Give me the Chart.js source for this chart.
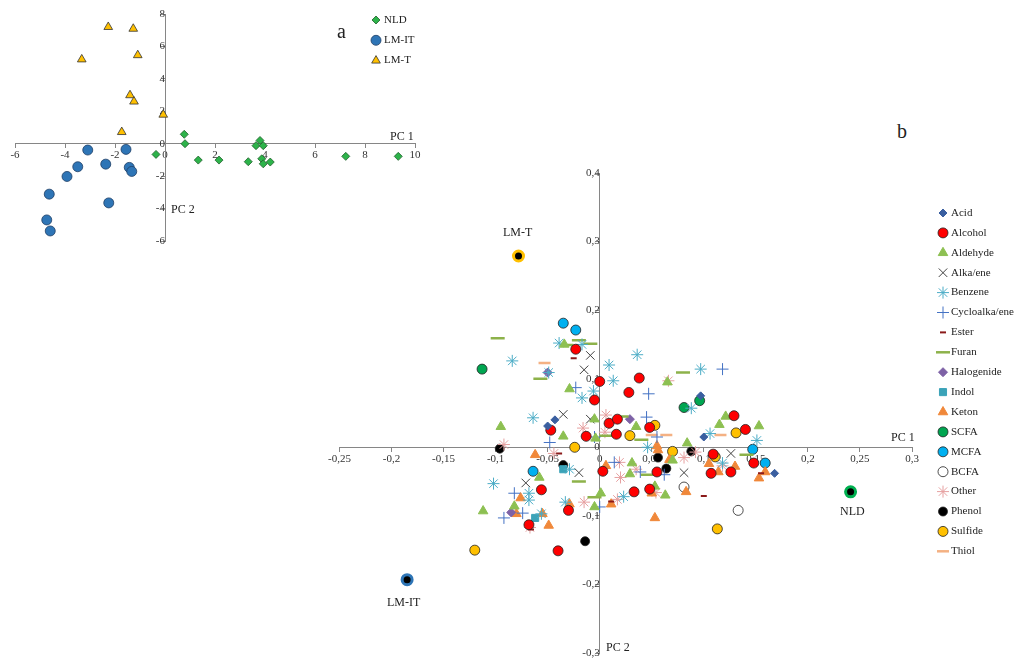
<!DOCTYPE html>
<html><head><meta charset="utf-8">
<script src="https://cdn.jsdelivr.net/npm/chart.js@4"></script>
<style>
body{margin:0;background:#fff;width:1024px;height:664px;position:relative;overflow:hidden;font-family:"Liberation Serif",serif}
canvas{position:absolute}
.t{position:absolute;font-size:12px;color:#222;white-space:nowrap}
</style></head><body>
<canvas id="ca" width="420" height="247" style="left:5px;top:4px"></canvas>
<canvas id="cb" width="697" height="500" style="left:327px;top:163px"></canvas>
<div class="t" style="left:337px;top:20px;font-size:20px">a</div>
<div class="t" style="left:897px;top:120px;font-size:20px">b</div>
<div class="t" style="left:390px;top:129px">PC 1</div>
<div class="t" style="left:171px;top:202px">PC 2</div>
<div class="t" style="left:891px;top:430px">PC 1</div>
<div class="t" style="left:606px;top:640px">PC 2</div>
<div class="t" style="left:503px;top:225px">LM-T</div>
<div class="t" style="left:840px;top:504px">NLD</div>
<div class="t" style="left:387px;top:595px">LM-IT</div>
<script>
// ── PANEL A: scores ──────────────────────────────────────────────────────────
const nld = [[-0.36,-0.66],[0.77,0.58],[0.8,0],[1.33,-1.01],[2.16,-1.01],[3.33,-1.11],[3.64,-0.12],[3.8,0.2],[3.93,-0.12],[3.87,-0.93],[3.93,-1.24],[4.21,-1.13],[7.23,-0.78],[9.33,-0.78]];
const lmIT = [[-3.09,-0.39],[-1.56,-0.35],[-3.49,-1.42],[-2.37,-1.26],[-1.43,-1.46],[-1.33,-1.71],[-3.92,-2.02],[-4.63,-3.11],[-2.25,-3.65],[-4.73,-4.7],[-4.59,-5.38]];
const lmT = [[-2.27,7.2],[-1.27,7.09],[-3.33,5.2],[-1.09,5.46],[-1.4,2.99],[-1.24,2.6],[-0.07,1.79],[-1.73,0.72]];

// ── PANEL B: loadings ────────────────────────────────────────────────────────
const acid = [[-0.05,0.031],[-0.043,0.04],[0.097,0.075],[0.1,0.015],[0.168,-0.038]];
const alcohol = [[-0.023,0.143],[0,0.096],[0.038,0.101],[0.028,0.08],[-0.005,0.069],[0.009,0.035],[0.017,0.041],[0.016,0.019],[-0.013,0.016],[-0.047,0.025],[0.048,0.029],[0.129,0.046],[0.14,0.026],[0.109,-0.01],[0.148,-0.023],[0.126,-0.036],[0.107,-0.038],[0.055,-0.036],[0.003,-0.035],[-0.056,-0.062],[0.033,-0.065],[0.048,-0.061],[-0.03,-0.092],[-0.068,-0.113],[-0.04,-0.151]];
const aldehyde = [[-0.034,0.15],[-0.029,0.085],[-0.095,0.03],[-0.035,0.016],[-0.005,0.041],[-0.004,0.013],[0.035,0.03],[0.065,0.095],[0.121,0.045],[0.115,0.033],[0.153,0.031],[0.084,0.006],[0.031,-0.023],[0.029,-0.039],[0.07,-0.019],[0.053,-0.057],[0.063,-0.07],[0.001,-0.067],[-0.005,-0.087],[-0.058,-0.044],[-0.082,-0.086],[-0.112,-0.093]];
const alkaene = [[-0.009,0.134],[-0.015,0.113],[-0.035,0.048],[-0.009,0.041],[-0.02,-0.037],[-0.071,-0.052],[0.081,-0.037],[0.126,-0.009]];
const benzene = [[-0.084,0.126],[-0.039,0.152],[-0.017,0.15],[0.009,0.12],[0.013,0.097],[-0.006,0.082],[-0.017,0.072],[-0.049,0.109],[0.036,0.135],[0.097,0.114],[0.088,0.057],[0.106,0.02],[-0.064,0.043],[-0.102,-0.053],[-0.068,-0.067],[-0.068,-0.077],[-0.033,-0.08],[-0.056,-0.097],[0.023,-0.072],[0.046,0],[0.151,0.01],[0.118,-0.023],[-0.029,-0.032]];
const cycloalkaene = [[-0.023,0.087],[0.047,0.078],[0.045,0.044],[0.118,0.114],[-0.048,0.007],[-0.005,0.015],[0.055,0.015],[0.014,-0.022],[0.039,-0.036],[0.062,-0.04],[-0.082,-0.067],[-0.074,-0.096],[-0.092,-0.103],[0,-0.087]];
const ester = [[-0.025,0.13],[-0.039,-0.009],[0.011,-0.079],[0.1,-0.071],[-0.066,-0.12],[0.155,-0.038]];
const furan = [[-0.098,0.159],[-0.057,0.1],[-0.032,0.149],[-0.02,0.156],[-0.009,0.151],[0.021,0.045],[0.006,0.017],[0.04,0.011],[0.08,0.109],[-0.02,-0.05],[-0.005,-0.073],[0.046,-0.04],[0.141,-0.011]];
const halogenide = [[-0.05,0.109],[0.029,0.041],[-0.085,-0.095]];
const indol = [[-0.035,-0.032],[-0.062,-0.103]];
const keton = [[-0.062,-0.011],[-0.076,-0.074],[-0.08,-0.097],[-0.055,-0.097],[-0.049,-0.114],[-0.029,-0.083],[0.006,-0.027],[0.011,-0.083],[0.055,0.002],[0.056,-0.004],[0.05,-0.067],[0.053,-0.103],[0.083,-0.065],[0.067,-0.018],[0.105,-0.024],[0.114,-0.036],[0.13,-0.028],[0.153,-0.045],[0.159,-0.036]];
const scfa = [[-0.113,0.114],[0.081,0.058],[0.096,0.068]];
const mcfa = [[-0.035,0.181],[-0.023,0.171],[-0.064,-0.035],[0.147,-0.003],[0.159,-0.023]];
const bcfa = [[0.081,-0.058],[0.133,-0.092]];
const other = [[-0.092,0.004],[-0.044,-0.009],[-0.016,0.028],[0.006,0.047],[0.005,0.022],[0.066,0.097],[0.019,-0.022],[0.02,-0.044],[0.035,-0.032],[0.054,-0.066],[0.017,-0.076],[-0.015,-0.08],[0.081,-0.015],[0.092,-0.007],[0.118,-0.027],[-0.067,-0.117]];
const phenol = [[-0.096,-0.002],[-0.035,-0.026],[0.056,-0.015],[0.064,-0.031],[0.088,-0.006],[-0.014,-0.137]];
const sulfide = [[-0.024,0],[0.029,0.017],[0.053,0.032],[0.07,-0.006],[0.111,-0.014],[0.131,0.021],[0.113,-0.119],[-0.12,-0.15]];
const thiol = [[-0.053,0.123],[0.05,0.018],[0.064,0.018],[0.116,0.018]];
const groupPts = [[-0.078,0.279],[0.241,-0.065],[-0.185,-0.193]];
const groupColors = ['#FFC000','#00B050','#2E75B6'];

const AXIS = '#868686';
const pts = a => a.map(p => ({x: p[0], y: p[1]}));
const fmt = v => String(Math.round(v * 100) / 100).replace('.', ',');
const font = {family: 'Liberation Serif', size: 11};

function axes(xmin, xmax, xstep, ymin, ymax, ystep, f) {
  const common = {grid: {display: true, drawOnChartArea: false, drawTicks: true, tickLength: 4, color: AXIS},
                  border: {color: AXIS}, ticks: {color: '#333', font, callback: f}};
  return {
    x: {type: 'linear', min: xmin, max: xmax, position: {y: 0}, ...common,
        ticks: {...common.ticks, stepSize: xstep, maxRotation: 0, padding: 1}},
    y: {type: 'linear', min: ymin, max: ymax, position: {x: 0}, ...common,
        ticks: {...common.ticks, stepSize: ystep, padding: 2}}
  };
}

const legendPlugin = (x0, y0, dy) => ({
  id: 'lg',
  afterDraw(chart) {
    const ctx = chart.ctx;
    chart.data.datasets.forEach((d, i) => {
      if (!d.label) return;
      const y = y0 + i * dy;
      ctx.save();
      ctx.fillStyle = d.backgroundColor; ctx.strokeStyle = d.borderColor; ctx.lineWidth = d.borderWidth;
      Chart.helpers.drawPoint(ctx, {pointStyle: d.pointStyle, radius: d.pointRadius, borderWidth: d.borderWidth, rotation: 0}, x0, y);
      ctx.fillStyle = '#222'; ctx.font = '11px "Liberation Serif"'; ctx.textBaseline = 'middle';
      ctx.fillText(d.label, x0 + 8, y);
      ctx.restore();
    });
  }
});

const ds = (label, data, style, bg, bc, r, bw) => ({label, data: pts(data), pointStyle: style,
  backgroundColor: bg, borderColor: bc, pointRadius: r, borderWidth: bw, pointHoverRadius: r});

new Chart(document.getElementById('ca'), {
  type: 'scatter',
  data: {datasets: [
    ds('NLD', nld, 'rectRot', '#2DB34A', '#1E5E2A', 4, 0.8),
    ds('LM-IT', lmIT, 'circle', '#2E75B6', '#1F3F66', 5, 0.8),
    ds('LM-T', lmT, 'triangle', '#FFC000', '#333', 5, 0.8)
  ]},
  options: {responsive: false, animation: false, events: [],
    layout: {padding: 10},
    plugins: {legend: {display: false}, tooltip: {enabled: false}},
    scales: axes(-6, 10, 2, -6, 8, 2, v => String(v))},
  plugins: [legendPlugin(371, 16, 20.3)]
});

new Chart(document.getElementById('cb'), {
  type: 'scatter',
  data: {datasets: [
    ds('Acid', acid, 'rectRot', '#3A5FA0', '#3A5FA0', 4, 1),
    ds('Alcohol', alcohol, 'circle', '#FF0000', '#222', 5, 0.8),
    ds('Aldehyde', aldehyde, 'triangle', '#8DC052', '#8DC052', 5.5, 1),
    ds('Alka/ene', alkaene, 'crossRot', '#404040', '#404040', 6, 1),
    ds('Benzene', benzene, 'star', '#4BACC6', '#4BACC6', 6, 1),
    ds('Cycloalka/ene', cycloalkaene, 'cross', '#4472C4', '#4472C4', 6, 1),
    ds('Ester', ester, 'line', '#8B1A1A', '#8B1A1A', 3, 2),
    ds('Furan', furan, 'line', '#8DB24A', '#8DB24A', 7, 2.5),
    ds('Halogenide', halogenide, 'rectRot', '#7E62A6', '#7E62A6', 4.5, 1),
    ds('Indol', indol, 'rect', '#3BA3B8', '#3BA3B8', 5, 1),
    ds('Keton', keton, 'triangle', '#F0883A', '#F0883A', 5.5, 1),
    ds('SCFA', scfa, 'circle', '#00A651', '#222', 5, 0.8),
    ds('MCFA', mcfa, 'circle', '#00B0F0', '#222', 5, 0.8),
    ds('BCFA', bcfa, 'circle', '#FFFFFF', '#222', 5, 0.8),
    ds('Other', other, 'star', '#E6A0A0', '#E6A0A0', 6, 1),
    ds('Phenol', phenol, 'circle', '#000000', '#222', 4.5, 0.8),
    ds('Sulfide', sulfide, 'circle', '#FFC000', '#222', 5, 0.8),
    ds('Thiol', thiol, 'line', '#F4B183', '#F4B183', 6, 2.5),
    {data: pts(groupPts), pointStyle: 'circle', backgroundColor: '#000', borderColor: groupColors,
     pointRadius: 5, borderWidth: 3, pointHoverRadius: 5}
  ]},
  options: {responsive: false, animation: false, events: [],
    layout: {padding: {left: 10, right: 112, top: 10, bottom: 10}},
    plugins: {legend: {display: false}, tooltip: {enabled: false}},
    scales: axes(-0.25, 0.3, 0.05, -0.3, 0.4, 0.1, fmt)},
  plugins: [legendPlugin(616, 50, 19.9)]
});
</script>
</body></html>
